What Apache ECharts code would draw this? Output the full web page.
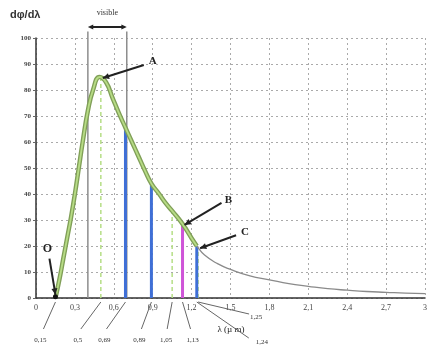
<!DOCTYPE html>
<html>
<head>
<meta charset="utf-8">
<script src="https://cdn.jsdelivr.net/npm/echarts@6/dist/echarts.min.js"></script>
<style>
  html, body { margin: 0; padding: 0; background: #fff; }
  #chart { width: 430px; height: 352px; }
</style>
</head>
<body>
<div id="chart"></div>
<script>
// spectrum (λ in µm, dφ/dλ)
const lambda = [0.15, 0.18, 0.21, 0.24, 0.27, 0.30, 0.33, 0.36, 0.40, 0.44, 0.49, 0.54, 0.59, 0.64, 0.69, 0.74, 0.79, 0.84, 0.89, 0.95, 1.00, 1.05, 1.13, 1.20, 1.24, 1.30, 1.40, 1.50, 1.65, 1.80, 1.95, 2.10, 2.25, 2.40, 2.55, 2.70, 2.85, 3.00]
const flux = [0, 7, 15, 23, 31, 40, 50, 60, 72, 80, 85, 83, 77, 71, 65.5, 60, 54.5, 49, 44, 40, 36.5, 33.5, 28.5, 23, 20, 16.5, 13.2, 11, 8.5, 7, 5.5, 4.5, 3.6, 3, 2.5, 2.2, 1.9, 1.7]
const greenEnd = 1.24

// vertical markers
const blueLambda = [0.69, 0.89, 1.24]
const blueHeight = [65.5, 44, 20]
const pinkLambda = [1.13]
const pinkHeight = [28.5]
const dashLambda = [0.5, 1.05, 1.25]
const dashHeight = [85, 33.5, 19]
const visibleBounds = [0.4, 0.7]

// callouts under the axis
const calloutLambda = [0.15, 0.5, 0.69, 0.89, 1.05, 1.13, 1.25, 1.24]
const calloutText = ['0,15', '0,5', '0,69', '0,89', '1,05', '1,13', '1,25', '1,24']

// lettered points on the curve
const pointName = ['A', 'B', 'C', 'O']
const pointLambda = [0.5, 1.13, 1.25, 0.15]
const pointFlux = [85, 28.5, 19.5, 0.5]

const serif = '"Liberation Serif", "DejaVu Serif", serif'
const chart = echarts.init(document.getElementById('chart'))

const vline = (x, h, color, width, type, clip) => ({
  type: 'line',
  data: [[x, 0], [x, h]],
  symbol: 'none',
  silent: true,
  clip: clip,
  lineStyle: { color, width, type },
  z: 3
})

const fmtX = v => (Math.abs(v - Math.round(v)) < 1e-6 ? String(Math.round(v)) : v.toFixed(1).replace('.', ','))

const curve = lambda.map((l, i) => [l, flux[i]])
const greenCurve = curve.filter(p => p[0] <= greenEnd + 1e-9)

const series = []
// thin gray full curve
series.push({
  type: 'line', smooth: 0.5, symbol: 'none', silent: true,
  data: curve,
  lineStyle: { color: '#8a8a8a', width: 1.3 }, z: 4
})
visibleBounds.forEach(l => series.push(vline(l, 102.5, '#8d8d8d', 1.5, 'solid', false)))
dashLambda.forEach((l, i) => series.push(vline(l, dashHeight[i], '#b5de85', 1.5, [4, 3], true)))
blueLambda.forEach((l, i) => series.push(vline(l, blueHeight[i], '#3f6fd6', 3, 'solid', true)))
pinkLambda.forEach((l, i) => series.push(vline(l, pinkHeight[i], '#cf55d8', 3, 'solid', true)))
// thick green band
series.push({
  type: 'line', smooth: 0.5, symbol: 'none', silent: true,
  data: greenCurve,
  lineStyle: { color: '#809f58', width: 4.5 }, z: 5
})
series.push({
  type: 'line', smooth: 0.5, symbol: 'none', silent: true,
  data: greenCurve,
  lineStyle: { color: '#b7dc85', width: 1.8 }, z: 6
})

chart.setOption({
  animation: false,
  grid: { left: 36, right: 3, top: 38, bottom: 54 },
  xAxis: {
    type: 'value', min: 0, max: 3, interval: 0.3,
    axisLine: { onZero: false, lineStyle: { color: '#333', width: 1.5 } },
    axisTick: { show: false },
    axisLabel: { color: '#444', fontSize: 8, fontFamily: serif, margin: 6, formatter: fmtX },
    splitLine: { show: true, lineStyle: { color: '#aaa', type: [2, 3], width: 1 } }
  },
  yAxis: {
    type: 'value', min: 0, max: 100, interval: 10,
    axisLine: { show: true, lineStyle: { color: '#333', width: 1.5 } },
    axisTick: { show: true, length: 3, lineStyle: { color: '#666' } },
    axisLabel: { color: '#444', fontSize: 7, fontFamily: serif, margin: 5, fontWeight: 'bold' },
    splitLine: { show: true, lineStyle: { color: '#aaa', type: [2, 3], width: 1 } }
  },
  series
})

// annotations placed through the axes
const px = (x, y) => chart.convertToPixel({ gridIndex: 0 }, [x, y])
const g = []
const arrowHead = (x1, y1, x2, y2, size) => {
  const a = Math.atan2(y2 - y1, x2 - x1)
  const p = [[x2, y2],
    [x2 - size * Math.cos(a - 0.45), y2 - size * Math.sin(a - 0.45)],
    [x2 - size * Math.cos(a + 0.45), y2 - size * Math.sin(a + 0.45)]]
  return { type: 'polygon', shape: { points: p }, style: { fill: '#222' }, z: 20 }
}
const arrow = (x1, y1, x2, y2) => {
  g.push({ type: 'line', shape: { x1, y1, x2, y2 }, style: { stroke: '#222', lineWidth: 2 }, z: 20 })
  g.push(arrowHead(x1, y1, x2, y2, 7))
}

g.push({ type: 'text', left: 10, top: 9, style: { text: 'dφ/dλ', font: 'bold 11px "Liberation Sans", Arial, sans-serif', fill: '#333' } })

// visible bracket
const v0 = px(visibleBounds[0], 100), v1 = px(visibleBounds[1], 100)
const ay = v0[1] - 11
g.push({ type: 'line', shape: { x1: v0[0] + 4, y1: ay, x2: v1[0] - 4, y2: ay }, style: { stroke: '#222', lineWidth: 2 }, z: 20 })
g.push(arrowHead(v1[0], ay, v0[0], ay, 6))
g.push(arrowHead(v0[0], ay, v1[0], ay, 6))
g.push({ type: 'text', x: (v0[0] + v1[0]) / 2, y: ay - 14, style: { text: 'visible', font: '8px ' + serif, fill: '#333', align: 'center', verticalAlign: 'middle' } })

// lettered points: [label dx, label dy] from target
const letterOffset = [[52, -16], [46, -24], [47, -15], [-8, -48]]
const arrowStart = [[43, -12], [39, -21], [38, -12], [-6, -38]]
pointName.forEach((n, i) => {
  const p = px(pointLambda[i], pointFlux[i])
  const s = [p[0] + arrowStart[i][0], p[1] + arrowStart[i][1]]
  arrow(s[0], s[1], p[0] + (i === 3 ? 0 : 2), p[1] + (i === 3 ? -2 : 1))
  g.push({ type: 'text', x: p[0] + letterOffset[i][0], y: p[1] + letterOffset[i][1], style: { text: n, font: 'bold ' + (i === 3 ? 12 : 11) + 'px ' + serif, fill: '#222', align: 'center', verticalAlign: 'middle' }, z: 21 })
})
const o = px(pointLambda[3], pointFlux[3])
g.push({ type: 'circle', shape: { cx: o[0], cy: o[1], r: 2.5 }, style: { fill: '#111' }, z: 21 })

// leader lines to callout values: [end dx, end dy, label dx, label dy]
const calloutPos = [[-12, 31, -15, 42], [-20, 31, -23, 42], [-19, 31, -21, 42], [-10, 31, -12, 42], [-5, 31, -6, 42], [8, 31, 10, 42], [51, 16, 58, 19], [52, 40, 65, 44]]
const base = px(0, 0)[1]
calloutLambda.forEach((l, i) => {
  const x = px(l, 0)[0]
  const c = calloutPos[i]
  g.push({ type: 'line', shape: { x1: x, y1: base + 4, x2: x + c[0], y2: base + c[1] }, style: { stroke: '#666', lineWidth: 1 }, z: 10 })
  g.push({ type: 'text', x: x + c[2], y: base + c[3], style: { text: calloutText[i], font: '7px ' + serif, fill: '#333', align: 'center', verticalAlign: 'middle' }, z: 10 })
})
g.push({ type: 'text', x: 231, y: 330, style: { text: 'λ (µ m)', font: '9px ' + serif, fill: '#222', align: 'center', verticalAlign: 'middle' } })

chart.setOption({ graphic: g })
</script>
</body>
</html>
